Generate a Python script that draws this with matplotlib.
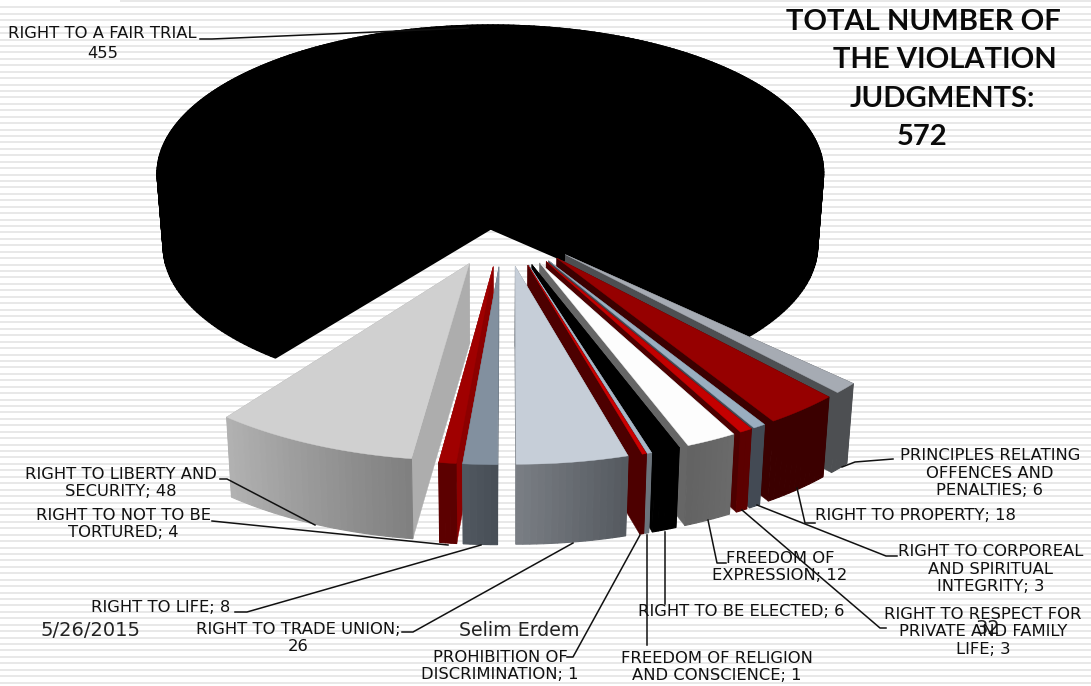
import numpy as np
import matplotlib
matplotlib.use("Agg")
import matplotlib.pyplot as plt

labels = ["RIGHT TO A FAIR TRIAL", "PRINCIPLES RELATING\nOFFENCES AND\nPENALTIES", "RIGHT TO PROPERTY",
          "RIGHT TO CORPOREAL\nAND SPIRITUAL\nINTEGRITY", "RIGHT TO RESPECT FOR\nPRIVATE AND FAMILY\nLIFE",
          "FREEDOM OF\nEXPRESSION", "RIGHT TO BE ELECTED", "FREEDOM OF RELIGION\nAND CONSCIENCE",
          "PROHIBITION OF\nDISCRIMINATION", "RIGHT TO TRADE UNION", "RIGHT TO LIFE",
          "RIGHT TO NOT TO BE\nTORTURED", "RIGHT TO LIBERTY AND\nSECURITY"]
values = [455, 6, 18, 3, 3, 12, 6, 1, 1, 26, 8, 4, 48]

# top face, radial wall, rim colour at each end of the rim
top_colors = ["#000000", "#a6abb3", "#960000", "#9aaec0", "#c40000", "#fdfdfd", "#000000",
              "#a9b8c8", "#cc0000", "#c6ced8", "#82909f", "#a00000", "#d0d0d0"]
wall_colors = ["#000000", "#4d4f52", "#3b0000", "#434a54", "#4d0000", "#666666", "#000000",
               "#6b7680", "#4d0000", "#7a8088", "#5a6672", "#8c0000", "#adadad"]
rim_start = ["#000000", "#4d4f52", "#3b0000", "#434a54", "#5c0000", "#6a6a6a", "#000000",
             "#6b737b", "#4d0000", "#54595f", "#474e56", "#5c0000", "#7f7f7f"]
rim_end = ["#000000", "#4d4f52", "#3b0000", "#434a54", "#5c0000", "#626262", "#000000",
           "#6b737b", "#4d0000", "#7a7e84", "#515860", "#5c0000", "#b2b2b2"]

# plan circle of radius 1 -> pixels, perspective view of the pie
H = [349.32987, -60.69171, 502.94123, -0.20992, 134.73544, 224.88991, 0.00057, -0.12295]
LAST_ANGLE = 134.0
EXPLODE = 0.25
EXPLODE_BIG = 0.45
DEPTH = 80.0
DEPTH_BIG = 73.0
CONVERGE = 0.018
X_VANISH = 495.0


def project(u, v, depth=0.0):
    w = H[6] * u + H[7] * v + 1
    x = (H[0] * u + H[1] * v + H[2]) / w
    y = (H[3] * u + H[4] * v + H[5]) / w
    if depth:
        x = X_VANISH + (x - X_VANISH) * (1 - CONVERGE)
        y = y + depth
    return np.column_stack([x, y])


def hex_mix(c1, c2, t):
    a = np.array(matplotlib.colors.to_rgb(c1))
    b = np.array(matplotlib.colors.to_rgb(c2))
    return tuple(a + (b - a) * t)


def poly(ax, pts, color, z, lw=0.3):
    ax.fill(pts[:, 0], pts[:, 1], facecolor=color, edgecolor=color, lw=lw, zorder=z)


def draw_wedge(ax, a0, a1, explode, depth, i, z, lw=0.3):
    mid = np.radians((a0 + a1) / 2)
    ox, oy = explode * np.sin(mid), -explode * np.cos(mid)
    n = max(3, int(abs(a1 - a0)) + 2)
    th = np.radians(np.linspace(a0, a1, n))
    u = ox + np.sin(th)
    v = oy - np.cos(th)
    apex_u, apex_v = np.array([ox]), np.array([oy])

    top_rim = project(u, v)
    low_rim = project(u, v, depth)
    apex_top = project(apex_u, apex_v)
    apex_low = project(apex_u, apex_v, depth)

    # radial walls first, the top face covers whatever should stay hidden
    for k in (0, -1):
        wall = np.vstack([apex_top, top_rim[k], low_rim[k], apex_low])
        poly(ax, wall, wall_colors[i], z, lw)
    for k in range(n - 1):
        strip = np.vstack([top_rim[k], top_rim[k + 1], low_rim[k + 1], low_rim[k]])
        poly(ax, strip, hex_mix(rim_start[i], rim_end[i], (k + 0.5) / (n - 1)), z + 0.1, max(lw, 0.8))
    poly(ax, np.vstack([apex_top, top_rim]), top_colors[i], z + 0.2, lw)


fig = plt.figure(figsize=(10.91, 6.86), dpi=100)
ax = fig.add_axes([0, 0, 1, 1])
ax.set_xlim(0, 1091)
ax.set_ylim(686, 0)
ax.axis("off")

# ruled background
for y in np.arange(7.4, 690, 6.43):
    ax.plot([0, 1091], [y, y], color="#e6e6e6", lw=1.3, zorder=0, solid_capstyle="butt")
ax.plot([120, 1091], [1, 1], color="#e6e6e6", lw=1.3, zorder=0, solid_capstyle="butt")

sweeps = 360.0 * np.array(values) / sum(values)
starts = LAST_ANGLE - sweeps[0] + np.r_[0, np.cumsum(sweeps)[:-1]]
starts[1:] = LAST_ANGLE + np.r_[0, np.cumsum(sweeps[1:])[:-1]]

draw_wedge(ax, starts[0], starts[0] + sweeps[0], EXPLODE_BIG, DEPTH_BIG, 0, 2, lw=1.2)
small = sorted(range(1, len(values)), key=lambda j: -abs(starts[j] + sweeps[j] / 2 - 180.5))
for rank, j in enumerate(small):
    draw_wedge(ax, starts[j], starts[j] + sweeps[j], EXPLODE, DEPTH, j, 3 + rank)

# leader lines
leaders = [
    [(200, 39), (212, 39), (468, 28)],
    [(893, 459), (855, 462), (842, 467)],
    [(815, 523), (805, 523), (797, 488)],
    [(897, 556), (886, 556), (757, 505)],
    [(886, 628), (880, 628), (742, 510)],
    [(726, 563), (717, 563), (708, 520)],
    [(665, 604), (665, 532)],
    [(647, 645), (647, 535)],
    [(567, 657), (573, 657), (640, 535)],
    [(402, 632), (413, 632), (573, 543)],
    [(235, 612), (247, 612), (481, 545)],
    [(212, 521), (448, 545)],
    [(220, 479), (227, 479), (315, 525)],
]
for line in leaders:
    pts = np.array(line)
    ax.plot(pts[:, 0], pts[:, 1], color="#111111", lw=1.1, zorder=40)

# data labels
label_xy = [None, (990, 473), (915, 516), (991, 569), (983, 632), (780, 567), (741, 611), (717, 667),
            (500, 666), (298, 638), (161, 608), (123, 524), (121, 483)]
for i in range(1, len(labels)):
    sep = "; " if i != 9 else ";\n"
    ax.text(label_xy[i][0], label_xy[i][1], labels[i] + sep + str(values[i]), ha="center", va="center",
            fontsize=11.8, linespacing=1.18, color="#111111", family="DejaVu Sans", zorder=50)
ax.text(8, 34, labels[0], ha="left", va="center", fontsize=11.8, color="#111111", zorder=50)
ax.text(103, 53, str(values[0]), ha="center", va="center", fontsize=11.8, color="#111111", zorder=50)

# heading, each line has its own indent
title_lines = ["TOTAL NUMBER OF", "THE VIOLATION", "JUDGMENTS:", "572"]
title_x = [786, 833, 850, 897]
title_y = [22, 60, 99, 137]
for s, x, y in zip(title_lines, title_x, title_y):
    ax.text(x, y, s, ha="left", va="center", fontsize=21, fontweight="bold", family="Lato",
            color="#0a0a0a", zorder=50)

# slide footer
ax.text(40, 631, "5/26/2015", ha="left", va="center", fontsize=14, color="#222222", zorder=45)
ax.text(459, 631, "Selim Erdem", ha="left", va="center", fontsize=13.7, color="#222222", zorder=45)
ax.text(988, 628, "32", ha="center", va="center", fontsize=14, color="#222222", zorder=45)

fig.savefig("out.png", dpi=100, facecolor="white")
